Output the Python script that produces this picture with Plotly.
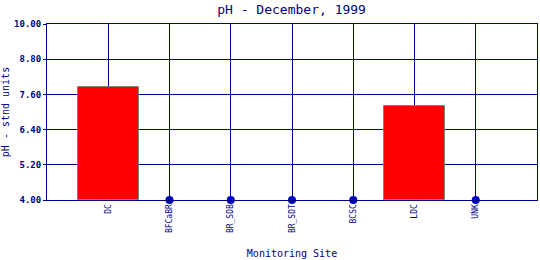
import plotly.graph_objects as go

sites = ["DC", "BFCaBR", "BR_SDB", "BR_SDT", "BCSC", "LDC", "UNK"]
ph_values = [7.85, None, None, None, None, 7.2, None]
y_ticks = [4.0, 5.2, 6.4, 7.6, 8.8, 10.0]

title_text = "pH - December, 1999"
x_title = "Monitoring Site"
y_title = "pH - stnd units"

NAVY = "#000080"
FONT = "DejaVu Sans Mono"

y_min, y_max = y_ticks[0], y_ticks[-1]

bar_x = [s for s, v in zip(sites, ph_values) if v is not None]
bar_y = [v for v in ph_values if v is not None]
miss_x = [s for s, v in zip(sites, ph_values) if v is None]
miss_y = [y_min for _ in miss_x]

fig = go.Figure()
fig.add_trace(go.Bar(
    x=bar_x, y=[v - y_min for v in bar_y], base=y_min,
    width=1.0,
    marker=dict(color="#FF0000", line=dict(color="#808080", width=1)),
    showlegend=False, hoverinfo="skip",
))
fig.add_trace(go.Scatter(
    x=miss_x, y=miss_y, mode="markers",
    marker=dict(color="#0000CC", size=8),
    showlegend=False, cliponaxis=False,
))

fig.update_layout(
    width=540, height=260,
    margin=dict(l=47, r=3, t=24, b=60),
    paper_bgcolor="white", plot_bgcolor="white",
    title=dict(text=title_text, x=0.54, xanchor="center", y=0.963, yanchor="middle",
               font=dict(family=FONT, size=13, color=NAVY)),
    font=dict(family=FONT, color=NAVY),
    bargap=0,
)
fig.update_xaxes(
    type="category", categoryorder="array", categoryarray=sites,
    range=[-1, len(sites)],
    showgrid=True, gridcolor=NAVY, gridwidth=1,
    showline=True, linecolor=NAVY, linewidth=1, mirror=True,
    ticks="", tickangle=-90,
    tickfont=dict(family=FONT, size=8, color=NAVY),
    title=dict(text=x_title, font=dict(family=FONT, size=10, color=NAVY), standoff=17),
    zeroline=False,
)
fig.update_yaxes(
    range=[y_min, y_max],
    tickvals=y_ticks, ticktext=[f"{t:.2f}" for t in y_ticks],
    showgrid=True, gridcolor=NAVY, gridwidth=1,
    showline=True, linecolor=NAVY, linewidth=1, mirror=True,
    ticks="outside", ticklen=3, tickcolor=NAVY,
    tickfont=dict(family=FONT, size=9, color=NAVY, weight="bold"),
    title=dict(text=y_title, font=dict(family=FONT, size=10, color=NAVY), standoff=4),
    zeroline=False,
)

fig.write_html("out.html")
